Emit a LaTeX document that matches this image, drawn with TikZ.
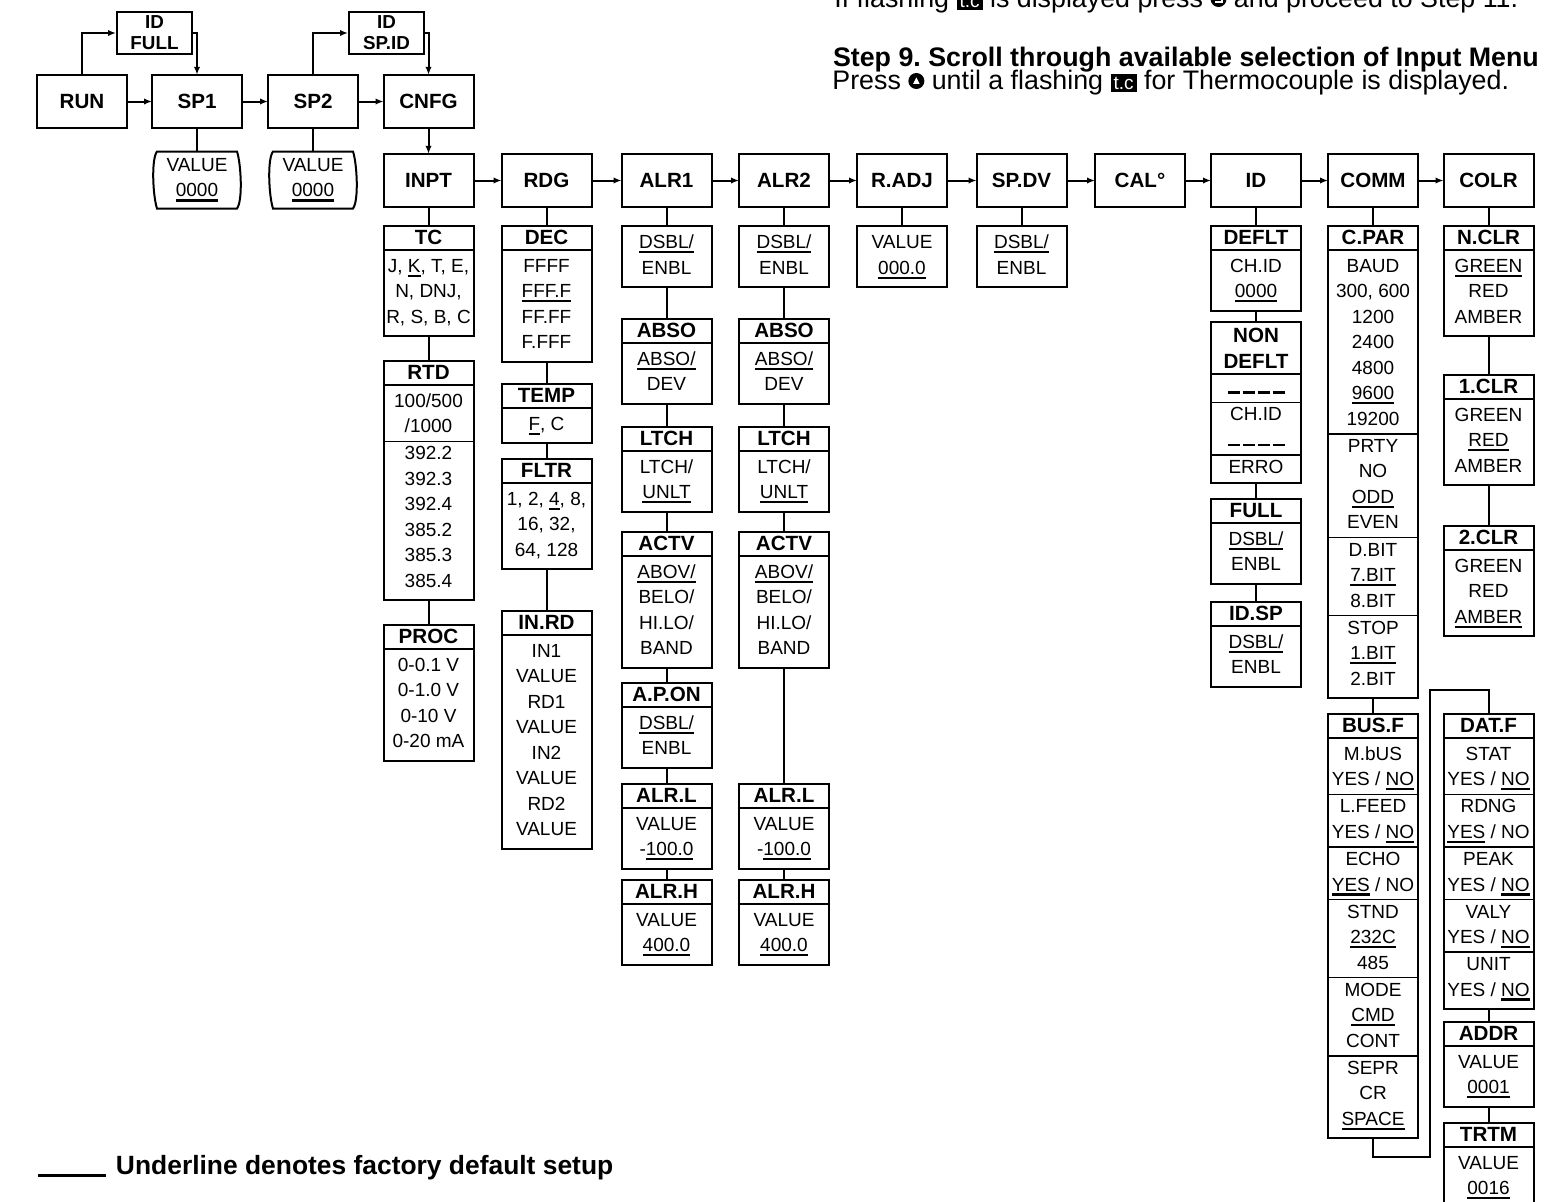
\documentclass[tikz,border=0pt]{standalone}
\usepackage{fontspec}
\setmainfont{Liberation Sans}
\usepackage{array}
\usetikzlibrary{arrows.meta, positioning}

\newcommand\menufont{\fontsize{10.3}{12}\selectfont\bfseries}
\newcommand\smallfont{\fontsize{9.4}{10.5}\selectfont\bfseries}
\newcommand\valfont{\fontsize{9.5}{12.75}\selectfont}
\newcommand\notefont{\fontsize{13.4}{16}\selectfont\frenchspacing}
\newcommand\dflt[1]{\leavevmode\setbox0\hbox{#1}\rlap{\rule[-2.3pt]{\wd0}{1.2pt}}\box0\relax}
\newcommand\idblank{\rule{6pt}{1.2pt}\hspace{1.5pt}\rule{6pt}{1.2pt}\hspace{1.5pt}\rule{6pt}{1.2pt}\hspace{1.5pt}\rule{6pt}{1.2pt}}
\newcommand\vlist[1]{\begin{tabular}{@{}>{\centering\arraybackslash}p{45pt}@{}}#1\end{tabular}}
\newcommand\tcdisp{{\fboxsep=1.5pt\colorbox{black}{\textcolor{white}{\fontsize{9.5}{9.5}\selectfont t.c}}}}
\newcommand\upkey{\tikz[baseline=0pt]{\fill (4pt,4pt) circle (4pt); \fill[white] (2.4pt,2.6pt) -- (5.6pt,2.6pt) -- (4pt,5.8pt) -- cycle;}}
\newcommand\enterkey{\tikz[baseline=0pt]{\fill (4pt,4pt) circle (4pt); \draw[white, line width=0.9pt] (5.7pt,6pt) -- (5.7pt,2.6pt) -- (2.2pt,2.6pt);}}
\setlength\arrayrulewidth{0.8pt}

\tikzstyle{menu} = [rectangle, draw, minimum width=45pt, minimum height=26.75pt,
                    inner sep=0pt, outer sep=0pt, font=\menufont]
\tikzstyle{hd} = [rectangle, draw, anchor=north, minimum width=45pt, minimum height=11.75pt,
                  inner sep=0pt, outer sep=0pt, font=\menufont]
\tikzstyle{vals} = [rectangle, draw, inner xsep=0pt, inner ysep=2.5pt, outer sep=0pt, font=\valfont]
\tikzstyle{idbox} = [rectangle, draw, minimum width=37.5pt, minimum height=21pt,
                     inner sep=0pt, align=center, font=\smallfont]
\tikzstyle{line} = [draw, -{Latex[length=4pt,width=3.2pt]}]

% header box with its value list below
\newcommand\subbox[5]{%
  \node[hd] (#1) at (#2,#3) {#4};
  \node[vals, below=0pt of #1] (#1v) {\vlist{#5}};}

\begin{document}
\begin{tikzpicture}[x=0.5pt, y=-0.5pt, line width=1pt]
    \useasboundingbox (0,0) rectangle (1551,1201);

    % notes
    \node[font=\notefont, anchor=base west, inner sep=0pt] (note) at (834,7)
        {If flashing \tcdisp{} is displayed press \enterkey{} and proceed to Step 11.};
    \node[font=\notefont\bfseries, anchor=base west, inner sep=0pt] (step) at (832,66)
        {Step 9. Scroll through available selection of Input Menu};
    \node[font=\notefont, anchor=base west, inner sep=0pt] (press) at (832,89)
        {Press \upkey{} until a flashing \tcdisp{} for Thermocouple is displayed.};

    % run level
    \node[menu] (run) at (82,101.5) {RUN};
    \node[menu] (sp1) at (197,101.5) {SP1};
    \node[menu] (sp2) at (313,101.5) {SP2};
    \node[menu] (cnfg) at (428.5,101.5) {CNFG};
    \node[idbox] (idfull) at (154.5,33) {ID\\FULL};
    \node[idbox] (idspid) at (386.5,33) {ID\\SP.ID};
    \node[font=\valfont, align=center, minimum width=39pt, minimum height=27.5pt, inner sep=0pt] (sp1v) at (197,180) {VALUE\\\dflt{0000}};
    \node[font=\valfont, align=center, minimum width=39pt, minimum height=27.5pt, inner sep=0pt] (sp2v) at (313,180) {VALUE\\\dflt{0000}};
    \foreach \v in {sp1v,sp2v}
        \draw (\v.north west) .. controls +(-6,8) and +(-4,-12) .. (\v.south west) -- (\v.south east)
              .. controls +(6,-8) and +(4,12) .. (\v.north east) -- cycle;

    % configuration menu
    \node[menu] (inpt) at (428.5,180.5) {INPT};
    \node[menu] (rdg) at (546.5,180.5) {RDG};
    \node[menu] (alra) at (666.5,180.5) {ALR1};
    \node[menu] (alrb) at (784,180.5) {ALR2};
    \node[menu] (radj) at (902,180.5) {R.ADJ};
    \node[menu] (spdv) at (1021.5,180.5) {SP.DV};
    \node[menu] (cal) at (1140,180.5) {CAL°};
    \node[menu] (id) at (1256,180.5) {ID};
    \node[menu] (comm) at (1373,180.5) {COMM};
    \node[menu] (colr) at (1488.5,180.5) {COLR};

    \subbox{tc}{428.5}{226}{TC}{J, \dflt{K}, T, E,\\N, DNJ,\\R, S, B, C}
    \subbox{rtd}{428.5}{361}{RTD}{100/500\\/1000\\\hline 392.2\\392.3\\392.4\\385.2\\385.3\\385.4}
    \subbox{proc}{428.5}{625}{PROC}{0-0.1 V\\0-1.0 V\\0-10 V\\0-20 mA}

    \subbox{dec}{546.5}{226}{DEC}{FFFF\\\dflt{FFF.F}\\FF.FF\\F.FFF}
    \subbox{temp}{546.5}{384}{TEMP}{\dflt{F}, C}
    \subbox{fltr}{546.5}{459}{FLTR}{1, 2, \dflt{4}, 8,\\16, 32,\\64, 128}
    \subbox{inrd}{546.5}{611}{IN.RD}{IN1\\VALUE\\RD1\\VALUE\\IN2\\VALUE\\RD2\\VALUE}

    \node[vals, anchor=north] (a1en) at (666.5,226) {\vlist{\dflt{DSBL/}\\ENBL}};
    \subbox{a1abs}{666.5}{319}{ABSO}{\dflt{ABSO/}\\DEV}
    \subbox{a1lt}{666.5}{427}{LTCH}{LTCH/\\\dflt{UNLT}}
    \subbox{a1act}{666.5}{532}{ACTV}{\dflt{ABOV/}\\BELO/\\HI.LO/\\BAND}
    \subbox{a1apo}{666.5}{683}{A.P.ON}{\dflt{DSBL/}\\ENBL}
    \subbox{a1lo}{666.5}{784}{ALR.L}{VALUE\\-\dflt{100.0}}
    \subbox{a1hi}{666.5}{880}{ALR.H}{VALUE\\\dflt{400.0}}

    \node[vals, anchor=north] (a2en) at (784,226) {\vlist{\dflt{DSBL/}\\ENBL}};
    \subbox{a2abs}{784}{319}{ABSO}{\dflt{ABSO/}\\DEV}
    \subbox{a2lt}{784}{427}{LTCH}{LTCH/\\\dflt{UNLT}}
    \subbox{a2act}{784}{532}{ACTV}{\dflt{ABOV/}\\BELO/\\HI.LO/\\BAND}
    \subbox{a2lo}{784}{784}{ALR.L}{VALUE\\-\dflt{100.0}}
    \subbox{a2hi}{784}{880}{ALR.H}{VALUE\\\dflt{400.0}}

    \node[vals, anchor=north] (radjv) at (902,226) {\vlist{VALUE\\\dflt{000.0}}};
    \node[vals, anchor=north] (spdvv) at (1021.5,226) {\vlist{\dflt{DSBL/}\\ENBL}};

    \subbox{deflt}{1256}{226}{DEFLT}{CH.ID\\\dflt{0000}}
    \node[hd, minimum height=26pt, align=center, font=\fontsize{10.3}{13}\selectfont\bfseries] (ndef) at (1256,322) {NON\\DEFLT};
    \node[vals, inner ysep=1pt, below=0pt of ndef] (ndefv) {\vlist{\idblank\\\hline CH.ID\\\idblank\\\hline ERRO}};
    \subbox{full}{1256}{499}{FULL}{\dflt{DSBL/}\\ENBL}
    \subbox{idsp}{1256}{602}{ID.SP}{\dflt{DSBL/}\\ENBL}

    \subbox{cpar}{1373}{226}{C.PAR}{BAUD\\300, 600\\1200\\2400\\4800\\\dflt{9600}\\19200\\\hline
        PRTY\\NO\\\dflt{ODD}\\EVEN\\\hline D.BIT\\\dflt{7.BIT}\\8.BIT\\\hline STOP\\\dflt{1.BIT}\\2.BIT}
    \subbox{busf}{1373}{714}{BUS.F}{M.bUS\\YES / \dflt{NO}\\\hline L.FEED\\YES / \dflt{NO}\\\hline
        ECHO\\\dflt{YES} / NO\\\hline STND\\\dflt{232C}\\485\\\hline MODE\\\dflt{CMD}\\CONT\\\hline SEPR\\CR\\\dflt{SPACE}}
    \subbox{datf}{1488.5}{714}{DAT.F}{STAT\\YES / \dflt{NO}\\\hline RDNG\\\dflt{YES} / NO\\\hline
        PEAK\\YES / \dflt{NO}\\\hline VALY\\YES / \dflt{NO}\\\hline UNIT\\YES / \dflt{NO}}
    \subbox{addr}{1488.5}{1022}{ADDR}{VALUE\\\dflt{0001}}
    \subbox{trtm}{1488.5}{1123}{TRTM}{VALUE\\\dflt{0016}}

    \subbox{nclr}{1488.5}{226}{N.CLR}{\dflt{GREEN}\\RED\\AMBER}
    \subbox{oneclr}{1488.5}{375}{1.CLR}{GREEN\\\dflt{RED}\\AMBER}
    \subbox{twoclr}{1488.5}{526}{2.CLR}{GREEN\\RED\\\dflt{AMBER}}

    \coordinate (jogl) at (1430,1157);
    \coordinate (jogu) at (1430,690);

    % arrows
    \foreach \a/\b in {run/sp1, sp1/sp2, sp2/cnfg, cnfg/inpt, inpt/rdg, rdg/alra, alra/alrb,
                       alrb/radj, radj/spdv, spdv/cal, cal/id, id/comm, comm/colr}
        \draw[line] (\a) -- (\b);
    \draw[line] (run) |- (idfull);
    \draw[line] (idfull) -| (sp1);
    \draw[line] (sp2) |- (idspid);
    \draw[line] (idspid) -| (cnfg);

    % plain links
    \draw (sp1) -- (sp1v) (sp2) -- (sp2v);
    \draw (inpt) -- (tc) (tcv) -- (rtd) (rtdv) -- (proc);
    \draw (rdg) -- (dec) (decv) -- (temp) (tempv) -- (fltr) (fltrv) -- (inrd);
    \draw (alra) -- (a1en) (a1en) -- (a1abs) (a1absv) -- (a1lt) (a1ltv) -- (a1act)
          (a1actv) -- (a1apo) (a1apov) -- (a1lo) (a1lov) -- (a1hi);
    \draw (alrb) -- (a2en) (a2en) -- (a2abs) (a2absv) -- (a2lt) (a2ltv) -- (a2act)
          (a2actv) -- (a2lo) (a2lov) -- (a2hi);
    \draw (radj) -- (radjv) (spdv) -- (spdvv);
    \draw (id) -- (deflt) (defltv) -- (ndef) (ndefv) -- (full) (fullv) -- (idsp);
    \draw (comm) -- (cpar) (cparv) -- (busf);
    \draw (busfv) |- (jogl) -- (jogu) -| (datf);
    \draw (datfv) -- (addr) (addrv) -- (trtm);
    \draw (colr) -- (nclr) (nclrv) -- (oneclr) (oneclrv) -- (twoclr);

    % legend
    \node[font=\fontsize{13.2}{15}\selectfont\bfseries, anchor=base west, inner sep=0pt] (legend) at (37,1174)
        {\rule[-1.5pt]{34pt}{1.4pt}\hspace{5pt}Underline denotes factory default setup};
\end{tikzpicture}
\end{document}
